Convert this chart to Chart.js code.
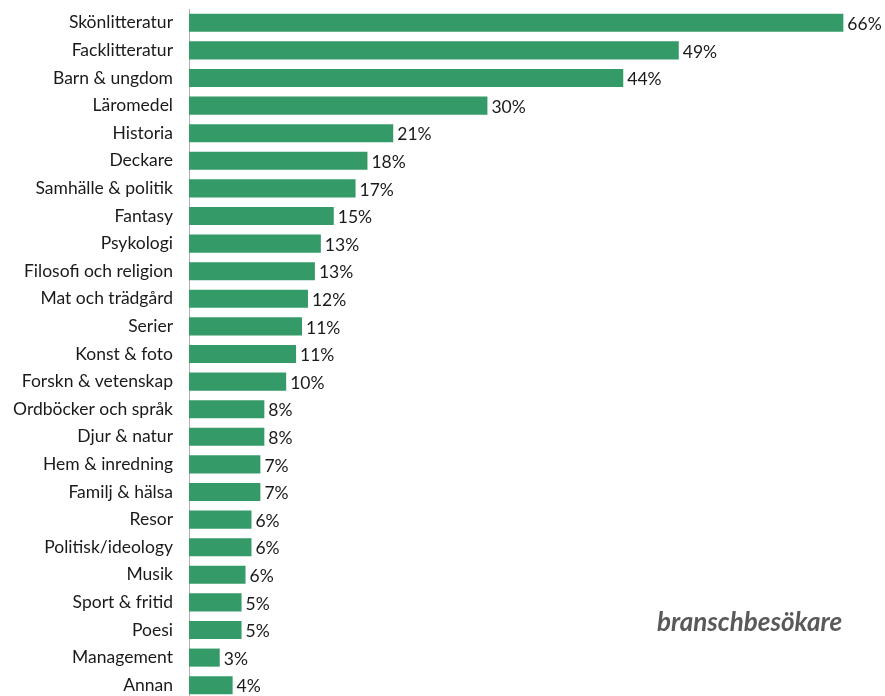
<!DOCTYPE html>
<html>
<head>
<meta charset="utf-8">
<script src="https://cdn.jsdelivr.net/npm/chart.js@4"></script>
<style>
  html, body { margin: 0; padding: 0; background: #fff; overflow: hidden; }
  #wrap { position: relative; width: 885px; height: 700px; }
  #note { position: absolute; left: 657px; top: 606px; font-family: Lato, sans-serif; font-weight: bold; font-style: italic; font-size: 26px; line-height: 30px; color: #595959; white-space: nowrap; }
</style>
</head>
<body>
<div id="wrap">
  <canvas id="c" width="885" height="700"></canvas>
  <div id="note">branschbesökare</div>
</div>
<script>
const categories = ["Skönlitteratur", "Facklitteratur", "Barn & ungdom", "Läromedel", "Historia", "Deckare", "Samhälle & politik", "Fantasy", "Psykologi", "Filosofi och religion", "Mat och trädgård", "Serier", "Konst & foto", "Forskn & vetenskap", "Ordböcker och språk", "Djur & natur", "Hem & inredning", "Familj & hälsa", "Resor", "Politisk/ideology", "Musik", "Sport & fritid", "Poesi", "Management", "Annan"];
const values = [66.0, 49.4, 43.8, 30.1, 20.6, 18.0, 16.8, 14.6, 13.3, 12.7, 12.0, 11.4, 10.8, 9.8, 7.6, 7.6, 7.2, 7.2, 6.3, 6.3, 5.7, 5.3, 5.3, 3.1, 4.4];
const axisMax = 70;

const FONT = "Lato, 'Open Sans', sans-serif";
const FONT_SIZE = 17.5;

const valueLabels = {
  id: 'valueLabels',
  afterDatasetsDraw(chart) {
    const ctx = chart.ctx;
    const meta = chart.getDatasetMeta(0);
    ctx.save();
    ctx.font = FONT_SIZE + "px " + FONT;
    ctx.fillStyle = "#1a1a1a";
    ctx.textAlign = "left";
    ctx.textBaseline = "middle";
    meta.data.forEach((bar, i) => {
      ctx.fillText(Math.round(values[i]) + "%", bar.x + 4, bar.y + 1.5);
    });
    ctx.restore();
  }
};

new Chart(document.getElementById('c'), {
  type: 'bar',
  data: {
    labels: categories,
    datasets: [{
      data: values,
      backgroundColor: "#349a68",
      borderWidth: 0,
      categoryPercentage: 1,
      barPercentage: 0.655
    }]
  },
  options: {
    indexAxis: 'y',
    responsive: false,
    animation: false,
    layout: { padding: { top: 9, bottom: 1, left: 0, right: 2 } },
    plugins: { legend: { display: false }, tooltip: { enabled: false } },
    scales: {
      x: { display: false, min: 0, max: axisMax },
      y: {
        grid: { display: false, drawTicks: false },
        border: { display: true, color: "#b0b0b0", width: 1 },
        ticks: { font: { family: FONT, size: FONT_SIZE }, color: "#1a1a1a", padding: 16 },
        afterFit(scale) { scale.width = 189; scale.paddingTop = 0; scale.paddingBottom = 0; }
      }
    }
  },
  plugins: [valueLabels]
});
</script>
</body>
</html>
